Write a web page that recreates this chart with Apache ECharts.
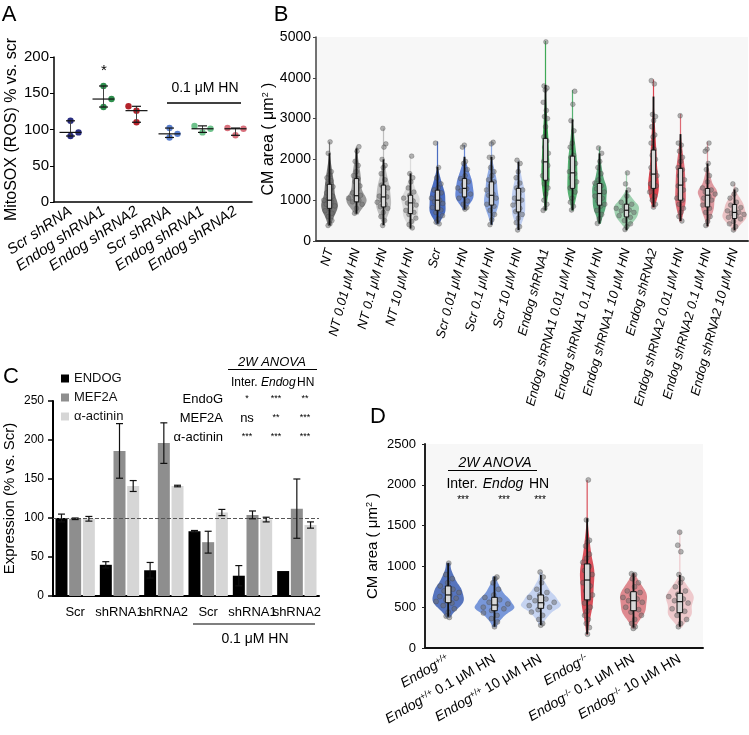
<!DOCTYPE html>
<html><head><meta charset="utf-8">
<script src="https://cdn.jsdelivr.net/npm/echarts@6/dist/echarts.min.js"></script>
<style>html,body{margin:0;padding:0;background:#fff}#c{width:749px;height:735px}</style>
</head><body><div id="c"></div>
<script>
// ---------------- DATA ----------------
// Panel A: MitoSOX, three replicates per group
const aCategories = ['Scr shRNA','Endog shRNA1','Endog shRNA2','Scr shRNA','Endog shRNA1','Endog shRNA2'];
const aValues = [[112,91,96],[160,131,142],[132,126,110],[102,89,94],[105,96,101],[102,92,101]];

// Panel B: CM area, summary [min, low whisker, q1, median, q3, high whisker, max]
const bCategories = ['NT','NT 0.01 μM HN','NT 0.1 μM HN','NT 10 μM HN','Scr','Scr 0.01 μM HN','Scr 0.1 μM HN','Scr 10 μM HN',
  'Endog shRNA1','Endog shRNA1 0.01 μM HN','Endog shRNA1 0.1 μM HN','Endog shRNA1 10 μM HN',
  'Endog shRNA2','Endog shRNA2 0.01 μM HN','Endog shRNA2 0.1 μM HN','Endog shRNA2 10 μM HN'];
const bStats = [
  [370,390,800,1000,1390,2150,2430],
  [650,670,960,1110,1530,2270,2310],
  [370,390,835,1080,1370,2000,2760],
  [300,305,673,934,1123,1656,2080],
  [410,427,754,1000,1246,1818,2440],
  [760,770,1080,1290,1530,2064,2350],
  [390,400,880,1120,1450,2060,2430],
  [260,270,713,1000,1290,1940,1980],
  [740,754,1490,1940,2516,3826,4900],
  [740,754,1290,1670,2080,2980,3700],
  [420,427,877,1164,1410,2147,2310],
  [260,263,590,754,902,1246,1700],
  [820,835,1290,1640,2230,3540,3960],
  [480,491,1000,1370,1780,2620,3110],
  [350,361,835,1123,1287,1900,2430],
  [240,263,550,700,894,1263,1410]
];
const bPoints = [
  [2430,2150,1700,1620,1550,1480,1400,1330,1260,1180,1100,1040,1000,960,900,860,800,740,680,600,500,420,380],
  [2310,2200,1950,1850,1700,1600,1530,1450,1350,1250,1180,1120,1090,1050,1000,960,900,800,680],
  [2760,2380,2300,2000,1850,1800,1650,1500,1370,1300,1200,1100,1080,1000,950,900,840,800,700,600,500,380],
  [2080,1650,1550,1450,1300,1200,1120,1050,980,930,880,820,750,700,650,560,480,400,320],
  [2400,1800,1550,1400,1300,1250,1180,1100,1050,1000,960,920,870,820,760,700,620,540,460,420],
  [2350,2300,1950,1900,1750,1600,1530,1450,1380,1300,1280,1230,1150,1100,1050,980,900,820,780],
  [2420,2380,2050,2050,1800,1700,1600,1500,1450,1350,1250,1150,1120,1050,980,900,850,750,650,520,400],
  [1980,1900,1700,1550,1420,1300,1250,1150,1050,1000,950,880,800,720,650,560,450,350,270],
  [4880,3800,3750,3700,3400,3200,3050,3000,2800,2550,2450,2300,2150,2000,1950,1850,1700,1600,1500,1400,1300,1150,1000,900,800,750],
  [3670,3350,2950,2700,2400,2300,2100,2050,1900,1800,1700,1650,1550,1450,1350,1300,1200,1050,950,850,760],
  [2280,2150,1950,1800,1650,1500,1420,1350,1280,1200,1160,1100,1050,980,900,850,750,650,540,430],
  [1670,1400,1250,1100,950,900,850,800,760,740,700,660,620,580,500,420,350,280],
  [3930,3850,3100,3050,2950,2800,2600,2550,2400,2250,2100,2000,1900,1800,1700,1650,1600,1500,1400,1350,1300,1200,1100,1000,900,830],
  [3070,2400,2350,2200,2050,1950,1800,1750,1600,1500,1400,1350,1250,1150,1050,1000,900,800,700,600,490],
  [2400,2250,2200,1900,1750,1600,1450,1300,1250,1200,1150,1100,1050,1000,950,880,800,700,600,480,380],
  [1400,1250,1150,1050,950,880,820,780,740,700,680,650,620,580,540,480,420,350,270]
];

// Panel C: expression (% vs Scr), mean and error
const cCategories = ['Scr','shRNA1','shRNA2','Scr','shRNA1','shRNA2'];
const cSeriesNames = ['ENDOG','MEF2A','α-actinin'];
const cEndog = [100,40,33,83,26,32];
const cEndogErr = [5,4,10,1,13,0];
const cMef2a = [99,186,196,69,104,112];
const cMef2aErr = [1,35,26,14,5,38];
const cActinin = [99,141,141,107,98,91];
const cActininErr = [3,7,1,4,3,4];

// Panel D: CM area in Endog+/+ and Endog-/-
const dCategories = ['Endog+/+','Endog+/+ 0.1 μM HN','Endog+/+ 10 μM HN','Endog-/-','Endog-/- 0.1 μM HN','Endog-/- 10 μM HN'];
const dStats = [
  [370,384,555,650,760,1040,1045],
  [255,261,457,527,621,874,880],
  [275,282,486,555,650,895,930],
  [160,171,590,833,1030,1590,2060],
  [240,250,457,580,690,915,920],
  [250,261,433,568,670,895,1440]
];
const dPoints = [
  [1040,900,850,800,760,720,700,680,650,630,610,590,570,550,520,480,440,390,375],
  [870,850,800,720,650,620,590,560,540,520,500,480,460,430,400,360,320,260],
  [930,870,800,720,680,650,620,600,580,560,540,520,500,470,440,400,350,300,280],
  [2060,1570,1320,1300,1250,1150,1100,1050,1000,950,900,850,800,760,700,650,600,550,500,450,400,350,300,250,170],
  [910,900,850,800,750,700,680,650,620,600,580,560,540,500,470,440,400,350,300,260,240],
  [1420,1260,1180,900,850,800,750,700,660,630,600,580,550,520,480,450,400,350,300,260]
];

// ---------------- STYLE ----------------
const FAM = '"Liberation Sans", Arial, Helvetica, sans-serif';
const aColors = ['#2a2e80','#2f8f4e','#b3222a','#5b80cf','#6fc28c','#d8717d'];
const bColors = ['#5e5e5e','#8a8a8a','#b4b4b4','#d6d6d6','#2c53b6','#4d73cf','#7e9de0','#b5c7ee',
  '#1f9b3a','#3aa55a','#3e9963','#8fcaa3','#d5222f','#d8515d','#d98890','#e9b8bb'];
const dColors = ['#3a5db3','#6286d4','#bccdf0','#d43340','#d9757d','#ecc1c4'];
const cColors = ['#000000','#8e8e8e','#d6d6d6'];

// ---------------- HELPERS ----------------
function median(arr){ const s=[...arr].sort((a,b)=>a-b); return s[Math.floor(s.length/2)]; }

function profile(st){
  const [vmin,wlo,q1,med,q3,whi,vmax] = st;
  const h = Math.max(0.2*(q3-q1), 20);
  const dens = y => {
    if (y < vmin || y > vmax) return 0;
    if (y < wlo) return 0.02/Math.max(wlo-vmin,1);
    if (y < q1) { const w=q1-wlo; return 2*0.23/w*(y-wlo)/w; }
    if (y < med) return 0.25/(med-q1);
    if (y < q3) return 0.25/(q3-med);
    if (y < whi) { const w=whi-q3; return 2*0.23/w*(whi-y)/w; }
    return 0.02/Math.max(vmax-whi,1);
  };
  const M = 300, lo = vmin-3*h, hi = vmax+3*h, dy = (hi-lo)/M;
  const gy = [], gr = [];
  for (let i=0;i<M;i++){ const y=lo+(i+0.5)*dy; gy.push(y); gr.push(dens(y)); }
  const K = 80, ys = [], ds = [];
  const norm = dy/(h*Math.sqrt(2*Math.PI));
  let peak = 0;
  for (let j=0;j<K;j++){
    const y = vmin + (vmax-vmin)*j/(K-1);
    let s = 0;
    for (let i=0;i<M;i++){ const u=(y-gy[i])/h; s += gr[i]*Math.exp(-0.5*u*u); }
    s *= norm; ys.push(y); ds.push(s); if (s>peak) peak=s;
  }
  return {ys, ds, peak, vmin, vmax};
}
function halfAt(p, y){
  const t = (y-p.vmin)/(p.vmax-p.vmin)*(p.ys.length-1);
  const i = Math.max(0, Math.min(p.ys.length-2, Math.floor(t)));
  const f = Math.max(0, Math.min(1, t-i));
  return p.ds[i]*(1-f)+p.ds[i+1]*f;
}
const bProf = bStats.map(profile);
const dProf = dStats.map(profile);
const bK = 12.5/Math.max(...bProf.map(p=>p.peak));
const dK = 20/Math.max(...dProf.map(p=>p.peak));

function violinRenderer(prof, k, colors){
  return function(params, api){
    const i = params.dataIndex, p = prof[i];
    const cx = api.coord([i,0])[0];
    const left = [], right = [];
    left.push([cx, api.coord([i,p.vmin])[1]]);
    p.ys.forEach((y,j)=>{
      const py = api.coord([i,y])[1];
      const w = Math.max(p.ds[j]*k, 0.6);
      left.push([cx-w,py]); right.push([cx+w,py]);
    });
    left.push([cx, api.coord([i,p.vmax])[1]]);
    return {type:'polygon', shape:{points:left.concat(right.reverse())},
      style:{fill:colors[i], opacity:0.85, stroke:null}};
  };
}
function flattenPts(groups){
  const out = [];
  groups.forEach((g,gi)=>g.forEach((v,j)=>out.push([gi,v,j])));
  return out;
}
function pointRenderer(prof, k, r){
  return function(params, api){
    const gi = api.value(0), v = api.value(1), j = api.value(2);
    const c = api.coord([gi, v]);
    const f = ((j+1)*0.61803398875 + gi*0.37) % 1;
    const w = Math.max(halfAt(prof[gi], v)*k*0.85, 2.5);
    return {type:'circle', shape:{cx:c[0]+(2*f-1)*w, cy:c[1], r:r},
      style:{fill:'rgba(105,105,105,0.5)', stroke:'rgba(60,60,60,0.45)', lineWidth:0.6}};
  };
}
function boxRenderer(stats, hw){
  return function(params, api){
    const i = params.dataIndex, s = stats[i];
    const cx = api.coord([i,0])[0];
    const Y = v => api.coord([i,v])[1];
    return {type:'group', children:[
      {type:'line', shape:{x1:cx,y1:Y(s[1]),x2:cx,y2:Y(s[5])}, style:{stroke:'#111', lineWidth:1.8}},
      {type:'rect', shape:{x:cx-hw, y:Y(s[4]), width:2*hw, height:Y(s[2])-Y(s[4])},
        style:{fill:'#d9d9d9', stroke:'#111', lineWidth:1}},
      {type:'line', shape:{x1:cx-hw,y1:Y(s[3]),x2:cx+hw,y2:Y(s[3])}, style:{stroke:'#111', lineWidth:1.2}}
    ]};
  };
}
const aJitter = [[0,0,1],[0,0,1],[-1,0,0],[0,0,1],[-1,0,1],[-1,0,1]];
function renderA(params, api){
  const i = params.dataIndex, vals = aValues[i];
  const cx = api.coord([i,0])[0];
  const Y = v => api.coord([i,v])[1];
  const mn = Math.min(...vals), mx = Math.max(...vals), md = median(vals);
  const ch = [];
  vals.forEach((v,j)=>ch.push({type:'circle', shape:{cx:cx+aJitter[i][j]*8, cy:Y(v), r:3.2}, style:{fill:aColors[i]}}));
  ch.push({type:'line', shape:{x1:cx,y1:Y(mn),x2:cx,y2:Y(mx)}, style:{stroke:'#444', lineWidth:1}});
  ch.push({type:'line', shape:{x1:cx-4.5,y1:Y(mn),x2:cx+4.5,y2:Y(mn)}, style:{stroke:'#111', lineWidth:1.2}});
  ch.push({type:'line', shape:{x1:cx-4.5,y1:Y(mx),x2:cx+4.5,y2:Y(mx)}, style:{stroke:'#111', lineWidth:1.2}});
  ch.push({type:'line', shape:{x1:cx-11,y1:Y(md),x2:cx+11,y2:Y(md)}, style:{stroke:'#111', lineWidth:1.2}});
  return {type:'group', children:ch};
}
const cMeans = [cEndog, cMef2a, cActinin];
const cErrs = [cEndogErr, cMef2aErr, cActininErr];
const cErrData = [];
cMeans.forEach((arr,s)=>arr.forEach((m,i)=>cErrData.push([i, m, cErrs[s][i], s])));
const cOffsets = [-13.7, 0, 13.7];
function renderErr(params, api){
  const i = api.value(0), m = api.value(1), e = api.value(2), s = api.value(3);
  if (!e) return null;
  const x = api.coord([i,0])[0] + cOffsets[s];
  const y1 = api.coord([i,m+e])[1], y2 = api.coord([i,m-e])[1];
  const st = {stroke:'#111', lineWidth:1.2};
  return {type:'group', children:[
    {type:'line', shape:{x1:x,y1:y1,x2:x,y2:y2}, style:st},
    {type:'line', shape:{x1:x-3.5,y1:y1,x2:x+3.5,y2:y1}, style:st},
    {type:'line', shape:{x1:x-3.5,y1:y2,x2:x+3.5,y2:y2}, style:st}
  ]};
}

// graphic helpers
function T(text, x, y, size, opt){
  opt = opt || {};
  const al = opt.align || 'center';
  return {type:'text', z:100, silent:true, style:{text, x, y, fill:'#000',
    font:(opt.italic?'italic ':'')+size+'px '+FAM, align:al, verticalAlign:'middle',
    textAlign:al, textVerticalAlign:'middle'}};
}
function L(x1,y1,x2,y2,w,c){
  return {type:'line', z:100, silent:true, shape:{x1,y1,x2,y2}, style:{stroke:c||'#000', lineWidth:w||1}};
}

// ---------------- CHART ----------------
const chart = echarts.init(document.getElementById('c'), null, {width:749, height:735});
const ax = {fontFamily:FAM, color:'#000'};
const plain = v => String(v);
const rich2 = {sup:{fontSize:9, verticalAlign:'top', fontFamily:FAM, color:'#000'}};

const graphics = [
  T('A', 9, 15, 22), T('B', 281, 15, 22), T('C', 11, 377, 22), T('D', 378, 417, 22),
  // panel A annotations
  T('*', 104, 71, 15), T('0.1 μM HN', 205, 88, 14), L(167,103,241,103,1.5),
  // panel C ANOVA table
  T('2W ANOVA', 272, 362, 13, {italic:true}), L(228,369.5,317,369.5,1),
  T('Inter.', 231, 383, 12, {align:'left'}), T('Endog', 261, 383, 12, {italic:true, align:'left'}), T('HN', 297, 383, 12, {align:'left'}),
  T('EndoG', 223, 399, 13, {align:'right'}), T('MEF2A', 223, 418, 13, {align:'right'}), T('α-actinin', 223, 437, 13, {align:'right'}),
  T('*', 247, 399, 9), T('***', 276, 399, 9), T('**', 305, 399, 9),
  T('ns', 247, 418, 13), T('**', 276, 418, 9), T('***', 305, 418, 9),
  T('***', 247, 437, 9), T('***', 276, 437, 9), T('***', 305, 437, 9),
  L(193,624,315,624,1.5,'#555'), T('0.1 μM HN', 255, 639, 14),
  // panel D ANOVA
  T('2W ANOVA', 495, 463, 14, {italic:true}), L(448,470.5,537,470.5,1.2),
  T('Inter.', 462, 484, 14), T('Endog', 503, 484, 14, {italic:true}), T('HN', 539, 484, 14),
  T('***', 463, 500, 10), T('***', 504, 500, 10), T('***', 540, 500, 10)
];

const option = {
  animation:false,
  backgroundColor:'#fff',
  textStyle:{fontFamily:FAM},
  grid:[
    {left:54, top:57, width:198, height:145},
    {left:316, top:37, width:432, height:204, show:true, backgroundColor:'#f7f7f7', borderWidth:0},
    {left:53, top:401, width:266, height:195},
    {left:425, top:444, width:278, height:204, show:true, backgroundColor:'#f7f7f7', borderWidth:0}
  ],
  legend:{data:cSeriesNames, orient:'vertical', left:61, top:372, icon:'rect', itemWidth:8, itemHeight:8, itemGap:6,
    padding:0, selectedMode:false, textStyle:{fontSize:13, fontFamily:FAM, color:'#111'}},
  xAxis:[
    {gridIndex:0, type:'category', data:aCategories, axisLine:{lineStyle:{color:'#000', width:1.5}},
      axisTick:{alignWithLabel:true, length:4, lineStyle:{color:'#000', width:1.2}},
      axisLabel:Object.assign({interval:0, rotate:34, fontStyle:'italic', fontSize:15, margin:8}, ax)},
    {gridIndex:1, type:'category', data:bCategories, axisLine:{lineStyle:{color:'#333', width:2}},
      axisTick:{alignWithLabel:true, length:4, lineStyle:{color:'#333', width:1.2}},
      axisLabel:Object.assign({interval:0, rotate:75, fontStyle:'italic', fontSize:13, margin:8}, ax)},
    {gridIndex:2, type:'category', data:cCategories, axisLine:{lineStyle:{color:'#000', width:2}},
      axisTick:{show:false}, axisLabel:Object.assign({interval:0, fontSize:13, margin:10}, ax)},
    {gridIndex:3, type:'category', data:dCategories, axisLine:{lineStyle:{color:'#111', width:2}},
      axisTick:{alignWithLabel:true, length:4, lineStyle:{color:'#111', width:1.2}},
      axisLabel:Object.assign({interval:0, rotate:30, fontSize:14, margin:10,
        rich:{i:{fontStyle:'italic', fontSize:14, fontFamily:FAM, color:'#000'}, s:{fontSize:9, verticalAlign:'top', fontFamily:FAM, color:'#000'}},
        formatter:v=>v.replace(/^Endog([+\-]\/[+\-])/, '{i|Endog}{s|$1}')}, ax)}
  ],
  yAxis:[
    {gridIndex:0, type:'value', min:0, max:200, interval:50, splitLine:{show:false},
      axisLine:{show:true, lineStyle:{color:'#000', width:1.5}}, axisTick:{show:true, length:4, lineStyle:{color:'#000'}},
      axisLabel:Object.assign({fontSize:15, margin:5, formatter:plain}, ax),
      name:'MitoSOX (ROS) % vs. scr', nameLocation:'middle', nameGap:34, nameMoveOverlap:false,
      nameTextStyle:{fontSize:16, fontFamily:FAM, color:'#000'}},
    {gridIndex:1, type:'value', min:0, max:5000, interval:1000, splitLine:{show:false},
      axisLine:{show:true, lineStyle:{color:'#444', width:1.5}}, axisTick:{show:true, length:3, lineStyle:{color:'#444'}},
      axisLabel:Object.assign({fontSize:14, margin:5, formatter:plain}, ax),
      name:'CM area ( μm{sup|2} )', nameLocation:'middle', nameGap:39, nameMoveOverlap:false,
      nameTextStyle:{fontSize:16, fontFamily:FAM, color:'#000', rich:rich2}},
    {gridIndex:2, type:'value', min:0, max:250, interval:50, splitLine:{show:false},
      axisLine:{show:true, lineStyle:{color:'#000', width:2}}, axisTick:{show:true, length:5, lineStyle:{color:'#000', width:1.5}},
      axisLabel:Object.assign({fontSize:12, margin:9, formatter:plain}, ax),
      name:'Expression (% vs. Scr)', nameLocation:'middle', nameGap:36, nameMoveOverlap:false,
      nameTextStyle:{fontSize:15, fontFamily:FAM, color:'#000'}},
    {gridIndex:3, type:'value', min:0, max:2500, interval:500, splitLine:{show:false},
      axisLine:{show:true, lineStyle:{color:'#222', width:2}}, axisTick:{show:true, length:3, lineStyle:{color:'#222'}},
      axisLabel:Object.assign({fontSize:13, margin:9, formatter:plain}, ax),
      name:'CM area ( μm{sup|2} )', nameLocation:'middle', nameGap:45, nameMoveOverlap:false,
      nameTextStyle:{fontSize:15, fontFamily:FAM, color:'#000', rich:rich2}}
  ],
  series:[
    {type:'custom', xAxisIndex:0, yAxisIndex:0, data:aValues.map((v,i)=>[i, median(v)]), renderItem:renderA, z:3},
    {type:'custom', xAxisIndex:1, yAxisIndex:1, data:bStats.map((s,i)=>[i,s[3]]), renderItem:violinRenderer(bProf,bK,bColors), z:2},
    {type:'custom', xAxisIndex:1, yAxisIndex:1, data:flattenPts(bPoints), renderItem:pointRenderer(bProf,bK,2.4), z:3},
    {type:'custom', xAxisIndex:1, yAxisIndex:1, data:bStats.map((s,i)=>[i,s[3]]), renderItem:boxRenderer(bStats,2.2), z:4},
    {type:'bar', name:cSeriesNames[0], xAxisIndex:2, yAxisIndex:2, data:cEndog, barWidth:12, barGap:'14%', itemStyle:{color:cColors[0]},
      markLine:{silent:true, symbol:'none', label:{show:false}, lineStyle:{type:'dashed', color:'#555', width:1}, data:[{yAxis:100}]}},
    {type:'bar', name:cSeriesNames[1], xAxisIndex:2, yAxisIndex:2, data:cMef2a, barWidth:12, barGap:'14%', itemStyle:{color:cColors[1]}},
    {type:'bar', name:cSeriesNames[2], xAxisIndex:2, yAxisIndex:2, data:cActinin, barWidth:12, barGap:'14%', itemStyle:{color:cColors[2]}},
    {type:'custom', xAxisIndex:2, yAxisIndex:2, data:cErrData, renderItem:renderErr, z:5},
    {type:'custom', xAxisIndex:3, yAxisIndex:3, data:dStats.map((s,i)=>[i,s[3]]), renderItem:violinRenderer(dProf,dK,dColors), z:2},
    {type:'custom', xAxisIndex:3, yAxisIndex:3, data:flattenPts(dPoints), renderItem:pointRenderer(dProf,dK,2.5), z:3},
    {type:'custom', xAxisIndex:3, yAxisIndex:3, data:dStats.map((s,i)=>[i,s[3]]), renderItem:boxRenderer(dStats,2.8), z:4}
  ],
  graphic:graphics
};
chart.setOption(option);
</script></body></html>
